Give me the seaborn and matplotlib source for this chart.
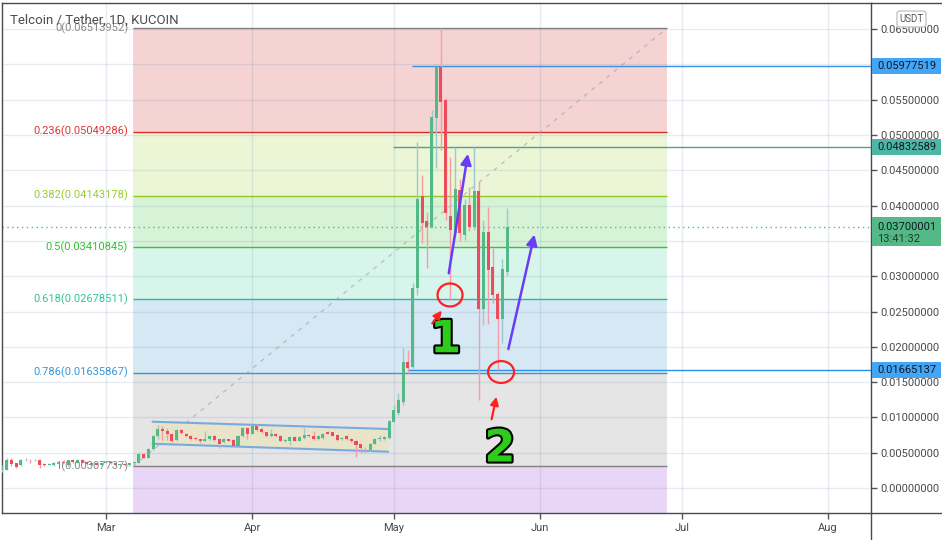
import matplotlib.pyplot as plt
import matplotlib.dates as mdates
import matplotlib.patheffects as pe
from matplotlib.patches import Ellipse, Rectangle, FancyBboxPatch, Polygon
from matplotlib.lines import Line2D
import numpy as np
import pandas as pd
import seaborn as sns

# =====================================================
# DATA  (TEL/USDT daily, KUCOIN)
# =====================================================

dates = pd.date_range("2020-02-08", "2020-05-25", freq="D")

opens = [
    .0025, .00255, .00397, .0035, .0032, .0039, .0040, .00397, .0039, .0034,
    .0033, .0032, .0034, .0036, .0032, .0039, .0036, .0040, .0037, .0033,
    .0035, .0033, .0036, .0037, .0035, .0033, .0034, .0032, .0035, .0036,
    .0048, .0043, .0055, .0073, .00836, .0081, .0077, .0068, .0082, .0077,
    .0074, .0071, .0069, .0067, .0069, .0074, .0069, .0065, .0069, .0068,
    .0060, .0073, .0085, .0077, .0088, .0084, .0079, .0073, .0077, .0074,
    .0067, .0067, .0072, .0067, .0071, .0075, .0074, .0069, .0071, .0080,
    .0079, .0075, .0069, .0074, .0070, .0067, .0062, .00566, .0054, .0063,
    .0070, .0069, .0071, .0094, .0106, .0122, .0179, .0172, .0283, .0413,
    .0378, .0370, .0524, .0597, .0549, .0385, .0361, .0422, .0358, .0401,
    .0370, .0420, .0254, .0363, .0313, .0275, .0240, .0306,
]
highs = [
    .0032, .0042, .0043, .0036, .0041, .0042, .0041, .0041, .0040, .0035,
    .0035, .0037, .0037, .0037, .0040, .0041, .0041, .0041, .0038, .0036,
    .0036, .0037, .0038, .0038, .0036, .0035, .0035, .0036, .0037, .0049,
    .0049, .0056, .0075, .0089, .0088, .00845, .0078, .0084, .0083, .0078,
    .0075, .0072, .0070, .0081, .0075, .0075, .0070, .0071, .0070, .0069,
    .0075, .0086, .0086, .0089, .0091, .0085, .0080, .0084, .0078, .0075,
    .0069, .0073, .0073, .0073, .00845, .0076, .0081, .0075, .0078, .0081,
    .0080, .0076, .0072, .0075, .0071, .0068, .0063, .0058, .0064, .0071,
    .0075, .0073, .0097, .0118, .0134, .0198, .0195, .0290, .0490, .0443,
    .0391, .0535, .0600, .06513952, .0552, .0469, .04832589, .0437, .0410, .0427,
    .0483, .0434, .0380, .0398, .0340, .0277, .0325, .0396,
]
lows = [
    .0023, .0025, .0031, .0029, .0031, .0038, .0036, .0038, .0029, .0031,
    .0032, .0031, .0033, .0034, .0031, .0036, .0035, .0035, .0032, .0032,
    .0032, .0032, .0035, .0034, .0032, .0031, .0031, .0031, .0034, .0035,
    .0042, .0042, .0054, .0070, .0068, .0068, .0065, .0067, .0076, .0072,
    .0068, .0068, .0064, .0066, .0068, .0067, .0056, .0064, .0066, .0059,
    .0059, .0072, .0069, .0076, .0081, .0078, .0072, .0072, .0072, .0066,
    .0065, .0061, .0066, .0066, .0070, .0072, .0068, .0068, .0070, .0076,
    .0073, .0067, .0068, .0068, .0065, .0044, .0050, .0050, .0052, .0062,
    .0066, .0068, .0070, .0093, .0104, .0118, .0163, .0170, .0273, .0347,
    .0311, .0368, .0453, .0479, .0380, .0266, .0356, .0350, .0352, .0364,
    .0365, .0125, .0231, .0233, .0262, .01665137, .0205, .0300,
]
closes = [
    .0031, .00397, .00335, .0030, .0040, .0040, .0039, .0039, .0032, .0033,
    .0034, .0036, .0036, .0035, .0039, .0037, .0040, .0036, .0034, .0035,
    .0033, .0036, .0037, .0035, .0033, .0034, .0032, .0035, .0036, .0048,
    .0043, .0055, .0073, .0084, .0081, .0076, .00666, .0082, .00774, .0073,
    .0069, .0069, .0067, .0070, .0074, .0068, .0062, .0069, .0067, .0060,
    .0074, .0085, .0077, .0088, .0082, .0079, .0073, .0077, .0073, .0067,
    .0068, .0072, .0067, .0072, .0075, .0073, .0069, .0074, .0077, .0077,
    .0074, .0068, .0071, .0069, .0066, .0061, .0056, .0056, .0063, .0070,
    .0071, .0072, .0095, .0111, .0125, .0179, .0170, .0283, .0410, .0375,
    .0370, .0526, .05977519, .0547, .0389, .0365, .0423, .0361, .0401, .0370,
    .0420, .0254, .0363, .0309, .0274, .0240, .0310, .03700001,
]

# fibonacci retracement
fib_ratios = ["0", "0.236", "0.382", "0.5", "0.618", "0.786", "1"]
fib_values = [0.06513952, 0.05049286, 0.04143178, 0.03410845,
              0.02678511, 0.01635867, 0.00307737]
fib_ext = -0.03527939  # 1.618 level (below visible area)

# horizontal rays / price badges
ray_prices = [0.05977519, 0.04832589, 0.01665137]
last_price = 0.03700001
countdown = "13:41:32"

months = ["Mar", "Apr", "May", "Jun", "Jul", "Aug"]
month_dates = ["2020-03-01", "2020-04-01", "2020-05-01",
               "2020-06-01", "2020-07-01", "2020-08-01"]
yticks = np.arange(0, 0.0651, 0.005)

# =====================================================
# STYLE
# =====================================================

sns.set_theme(style="white")
plt.rcParams["font.family"] = ["Roboto", "DejaVu Sans"]

W, H = 942, 540
fig = plt.figure(figsize=(W / 100, H / 100), dpi=100)
ax = fig.add_axes([1.5 / W, (H - 513) / H, (871 - 1.5) / W, (513 - 3) / H])

base = mdates.date2num(pd.Timestamp("2020-03-01"))


def day(d):
    return base + d


x = mdates.date2num(dates)
ax.set_xlim(day(-22.1), day(162.1))
ax.set_ylim(-0.00354, 0.0687)

# grid
grid_c = (0.25, 0.45, 0.6, 0.13)
for v in yticks:
    ax.axhline(v, color=grid_c, lw=1, zorder=0.8)
for m in month_dates:
    ax.axvline(mdates.date2num(pd.Timestamp(m)), color=grid_c, lw=1, zorder=0.8)

# =====================================================
# FIB RETRACEMENT
# =====================================================

fx0, fx1 = day(5.76), day(118.9)
zone_colors = ["#f5d3d3", "#ecf5d6", "#d7f3d7", "#d7f5ea", "#d5e8f4", "#e5e5e5", "#e9d5f6"]
line_colors = ["#808080", "#e02a2a", "#94c81e", "#3fc03a", "#2fb894", "#3a96d6", "#808080"]
label_colors = ["#8a8a8a", "#dd3535", "#9acd32", "#33c033", "#33c49c", "#3a96d6", "#8a8a8a"]
bounds = fib_values + [fib_ext]
for i in range(len(bounds) - 1):
    ax.fill_between([fx0, fx1], bounds[i + 1], bounds[i], color=zone_colors[i], lw=0, zorder=0.5)
for v, c in zip(fib_values, line_colors):
    ax.hlines(v, fx0, fx1, colors=c, lw=1, zorder=1.5)
for r, v, c in zip(fib_ratios, fib_values, label_colors):
    ax.text(day(4.7), v, f"{r}({v:.8f})", ha="right", va="center",
            color=c, fontsize=8, zorder=6)
ax.plot([fx0, fx1], [fib_values[-1], fib_values[0]], color="#9aa4ad",
        lw=1, ls=(0, (3, 4)), alpha=0.6, zorder=1.6)

# channel
ch = Polygon([[day(9.9), 0.00939], [day(59.85), 0.00836],
              [day(59.85), 0.00514], [day(9.9), 0.00627]],
             closed=True, facecolor="#e8e3c9", edgecolor="none", zorder=1.7)
ax.add_patch(ch)
ax.plot([day(9.9), day(59.85)], [0.00939, 0.00836], color="#5b9ee0", lw=1.5, alpha=0.8, zorder=1.8)
ax.plot([day(9.9), day(59.85)], [0.00627, 0.00514], color="#5b9ee0", lw=1.5, alpha=0.8, zorder=1.8)

# rays
ray_starts = [day(64.9), day(60.8), day(64.0)]
ray_colors = ["#3d8fe0", "#4aa392", "#2b8fe6"]
for p, s, c in zip(ray_prices, ray_starts, ray_colors):
    ax.hlines(p, s, day(163), colors=c, lw=1, zorder=2)

# last price dotted line
ax.axhline(last_price, color="#53b987", lw=1, ls=(0, (1, 2.5)), zorder=2)

# =====================================================
# CANDLES
# =====================================================

o = np.array(opens)
h = np.array(highs)
l = np.array(lows)
c = np.array(closes)
up = c >= o
body_c = np.where(up, "#53b987", "#eb4d5c")
wick_c = np.where(up, "#9fc5cf", "#f59ca6")
ax.vlines(x, l, h, colors=wick_c, lw=1, zorder=4)
ax.bar(x, np.maximum(np.abs(c - o), 0.00012), bottom=np.minimum(o, c),
       width=0.64, color=body_c, lw=0, zorder=5)

# =====================================================
# DRAWINGS
# =====================================================

purple = "#6b3cf5"
red = "#ff2020"
for txt, cx, cy in [("1", 72.0, 0.0210), ("2", 83.5, 0.00552)]:
    ax.text(day(cx), cy, txt, ha="center", va="center", fontsize=32, fontweight="bold",
            family="DejaVu Sans", color="#2ecc1a", zorder=8,
            path_effects=[pe.withStroke(linewidth=3, foreground="black")])
for tail, tip in [((72.56, 0.03003), (76.8, 0.04773)), ((85.15, 0.01931), (90.93, 0.0363))]:
    ax.annotate("", xy=(day(tip[0]), tip[1]), xytext=(day(tail[0]), tail[1]),
                arrowprops=dict(arrowstyle="-|>", color=purple, lw=1.8, mutation_scale=16),
                zorder=9)
for tail, tip in [((68.8, 0.02300), (71.5, 0.02545)), ((81.6, 0.00935), (82.87, 0.01331))]:
    ax.annotate("", xy=(day(tip[0]), tip[1]), xytext=(day(tail[0]), tail[1]),
                arrowprops=dict(arrowstyle="-|>", color=red, lw=1.6, mutation_scale=12),
                zorder=9)
for cx, cy, w, hh in [(72.92, 0.02734, 5.3, 0.00326), (83.73, 0.01643, 5.5, 0.0031)]:
    ax.add_patch(Ellipse((day(cx), cy), w, hh, fill=False, ec=red, lw=1.6, zorder=9))

# =====================================================
# AXES
# =====================================================

hidden = {0.06, 0.035}  # covered by the price badges
ax.yaxis.tick_right()
ax.set_yticks(yticks)
ax.set_yticklabels(["" if round(v, 3) in hidden else f"{v:.8f}" for v in yticks])
ax.set_xticks([mdates.date2num(pd.Timestamp(m)) for m in month_dates])
ax.set_xticklabels(months)
ax.tick_params(axis="y", length=4, width=1, color="#555555", labelsize=8,
               labelcolor="#4a4a4a", pad=3, right=True, left=False)
ax.tick_params(axis="x", length=4, width=1, color="#555555", labelsize=8,
               labelcolor="#4a4a4a", pad=3, bottom=True)
for s in ax.spines.values():
    s.set_color("#4a4a4a")
    s.set_linewidth(1)

# frame pieces outside the axes
fig.add_artist(Line2D([871 / W, 871 / W], [0, (H - 513) / H], color="#4a4a4a", lw=1))
fig.add_artist(Line2D([871 / W, 1], [(H - 3) / H, (H - 3) / H], color="#4a4a4a", lw=1))
fig.add_artist(Line2D([871 / W, 1], [(H - 513) / H, (H - 513) / H], color="#4a4a4a", lw=1))

# title
fig.text(10 / W, 1 - 20 / H, "Telcoin / Tether, 1D, KUCOIN", fontsize=9.5,
         color="#4b4b4b", va="center", ha="left")

# USDT box
fig.add_artist(FancyBboxPatch((897 / W, 1 - 27 / H), 29 / W, 16 / H,
                              boxstyle="round,pad=0,rounding_size=0.004",
                              transform=fig.transFigure, fc="white", ec="#c6c6c6", lw=1))
fig.text(911.5 / W, 1 - 19 / H, "USDT", fontsize=7, color="#555555", ha="center", va="center")


# price badges
def badge(price, label, bg, extra=None):
    yd = ax.transData.transform((day(0), price))[1]
    ytop = H - yd
    if extra is None:
        top, bot = ytop - 8, ytop + 8
    else:
        top, bot = ytop - 10, ytop + 19
    fig.add_artist(Rectangle((872 / W, 1 - bot / H), 69 / W, (bot - top) / H,
                             transform=fig.transFigure, fc=bg, ec="none", zorder=3))
    fig.text(877 / W, 1 - ytop / H, label, fontsize=8, color="#131722",
             ha="left", va="center", zorder=4)
    if extra is not None:
        fig.text(877 / W, 1 - (ytop + 12) / H, extra, fontsize=8, color="#1f3b2c",
                 ha="left", va="center", zorder=4)


badge(ray_prices[0], f"{ray_prices[0]:.8f}", "#42a5f5")
badge(ray_prices[1], f"{ray_prices[1]:.8f}", "#4db6a4")
badge(last_price, f"{last_price:.8f}", "#53b987", countdown)
badge(ray_prices[2], f"{ray_prices[2]:.8f}", "#42a5f5")

fig.savefig("out.png", dpi=100)
